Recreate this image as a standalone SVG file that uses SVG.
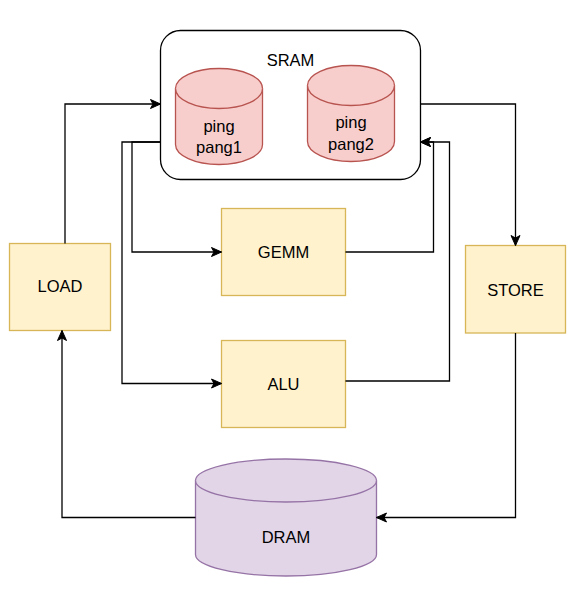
<svg xmlns="http://www.w3.org/2000/svg" width="581" height="589" viewBox="0 0 581 589">
<defs>
<marker id="arr" markerUnits="userSpaceOnUse" markerWidth="12" markerHeight="12" viewBox="0 0 12 12" refX="11" refY="6" orient="auto">
<path d="M1,1.5 L11,6 L1,10.5 L3.5,6 Z" fill="#000" stroke="#000" stroke-width="1"/>
</marker>
</defs>
<style>
text{font-family:"Liberation Sans",Arial,sans-serif;font-size:16.5px;fill:#000;text-anchor:middle}
.box{fill:#fff2cc;stroke:#d6b656;stroke-width:1.3}
.red{fill:#f8cecc;stroke:#b85450;stroke-width:1.3}
.pur{fill:#e1d5e7;stroke:#9673a6;stroke-width:1.3}
.c{fill:none;stroke:#000;stroke-width:1.3}
</style>
<rect width="581" height="589" fill="#fff"/>
<g id="sram">
<rect x="160.5" y="30.5" width="260" height="149" rx="20" ry="20" fill="#fff" stroke="#000" stroke-width="1.3"/>
<text x="290.5" y="66">SRAM</text>
</g>
<g id="pingpang1">
<path class="red" d="M175.5,88.5 A43.5,20 0 0 1 262.5,88.5 L262.5,144.5 A43.5,20 0 0 1 175.5,144.5 Z"/>
<path class="red" d="M175.5,88.5 A43.5,20 0 0 0 262.5,88.5" fill="none"/>
<text x="219" y="131.5">ping</text>
<text x="219" y="153">pang1</text>
</g>
<g id="pingpang2">
<path class="red" d="M307.5,85.5 A43.5,20 0 0 1 394.5,85.5 L394.5,141.5 A43.5,20 0 0 1 307.5,141.5 Z"/>
<path class="red" d="M307.5,85.5 A43.5,20 0 0 0 394.5,85.5" fill="none"/>
<text x="351" y="128">ping</text>
<text x="351" y="150">pang2</text>
</g>
<g id="gemm">
<rect class="box" x="221.5" y="208.5" width="124" height="87"/>
<text x="283.5" y="258">GEMM</text>
</g>
<g id="alu">
<rect class="box" x="221.5" y="340.5" width="124" height="87"/>
<text x="283.5" y="390">ALU</text>
</g>
<g id="load">
<rect class="box" x="9.5" y="243.5" width="101" height="87"/>
<text x="60" y="292">LOAD</text>
</g>
<g id="store">
<rect class="box" x="465.5" y="245.5" width="100" height="87.5"/>
<text x="515.5" y="295.5">STORE</text>
</g>
<g id="dram">
<path class="pur" d="M195.5,480.5 A90.5,21.5 0 0 1 376.5,480.5 L376.5,554.5 A90.5,21.5 0 0 1 195.5,554.5 Z"/>
<path class="pur" d="M195.5,480.5 A90.5,21.5 0 0 0 376.5,480.5" fill="none"/>
<text x="286" y="542.5">DRAM</text>
</g>
<g id="connectors">
<path class="c" d="M65,243.5 L65,104 L160.5,104" marker-end="url(#arr)"/>
<path class="c" d="M160.5,142 L132,142 L132,252 L221.5,252" marker-end="url(#arr)"/>
<path class="c" d="M160.5,142 L122,142 L122,383.5 L221.5,383.5" marker-end="url(#arr)"/>
<path class="c" d="M345.5,252 L433.5,252 L433.5,142 L420.5,142" marker-end="url(#arr)"/>
<path class="c" d="M345.5,381 L449.5,381 L449.5,142 L420.5,142" marker-end="url(#arr)"/>
<path class="c" d="M420.5,104 L515.5,104 L515.5,245.5" marker-end="url(#arr)"/>
<path class="c" d="M515.5,333 L515.5,517.5 L376.5,517.5" marker-end="url(#arr)"/>
<path class="c" d="M195.5,517.5 L62,517.5 L62,330.5" marker-end="url(#arr)"/>
</g>
</svg>
